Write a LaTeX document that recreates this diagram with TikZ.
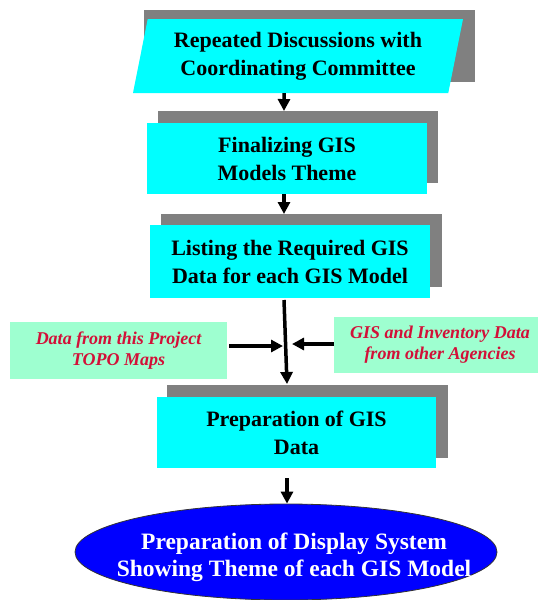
\documentclass[tikz,border=0pt]{standalone}
\usepackage{fontspec}
\setmainfont{Liberation Serif}
\usetikzlibrary{shapes.geometric,arrows.meta}

\definecolor{boxcyan}{RGB}{0,255,255}
\definecolor{shadowgray}{RGB}{128,128,128}
\definecolor{mint}{RGB}{158,255,208}
\definecolor{srcred}{RGB}{210,16,56}
\definecolor{dispblue}{RGB}{0,0,255}

\tikzset{
  shadowbox/.style={fill=shadowgray, inner sep=0pt, outer sep=0pt},
  stepbox/.style={fill=boxcyan, inner sep=0pt, outer sep=0pt, align=center,
    font=\bfseries\fontsize{22}{28}\selectfont},
  srcbox/.style={fill=mint, inner sep=0pt, outer sep=0pt, align=center,
    text=srcred, font=\bfseries\itshape\fontsize{18}{21}\selectfont},
  arr/.style={line width=3.5pt, -{Triangle[length=12pt,width=12pt]}},
}

\begin{document}
\begin{tikzpicture}[x=1pt,y=-1pt]
  \useasboundingbox (0,0) rectangle (538,600);

  % drop shadows behind the process boxes
  \node[shadowbox, minimum width=331, minimum height=72] (s1) at (309.5,46) {};
  \node[shadowbox, minimum width=280, minimum height=72] (s2) at (298,147) {};
  \node[shadowbox, minimum width=281, minimum height=73] (s3) at (301.5,250.5) {};
  \node[shadowbox, minimum width=281, minimum height=73] (s4) at (307.5,421.5) {};

  % process steps
  \node[stepbox, trapezium, trapezium left angle=73, trapezium right angle=107,
        trapezium stretches body, minimum width=330, minimum height=74]
        (box1) at (298,56) {Repeated Discussions with\\Coordinating Committee};
  \node[stepbox, minimum width=280, minimum height=71]
        (box2) at (287,158.5) {Finalizing GIS\\Models Theme};
  \node[stepbox, minimum width=280, minimum height=73]
        (box3) at (290,261.5) {Listing the Required GIS\\Data for each GIS Model};
  \node[stepbox, minimum width=279, minimum height=71]
        (box4) at (296.5,432.5) {Preparation of GIS\\Data};

  % data sources
  \node[srcbox, minimum width=217, minimum height=57]
        (lb) at (118.5,350.5) {Data from this Project\\TOPO Maps};
  \node[srcbox, minimum width=204, minimum height=56]
        (rb) at (436,345) {\hspace*{8pt}GIS and Inventory Data\\\hspace*{8pt}from other Agencies};

  % final output: ellipse with its caption set on top
  \node[ellipse, fill=dispblue, draw=black!80, line width=0.8pt, inner sep=0pt,
        minimum width=422, minimum height=96] (disp) at (286,552) {};
  \node[align=center, text=white, inner sep=0pt,
        font=\bfseries\fontsize{23.5}{27}\selectfont]
        (disptext) at ([xshift=8pt,yshift=-5pt]disp.center)
        {Preparation of Display System\\Showing Theme of each GIS Model};

  % merge points on the main flow line
  \coordinate (jl) at (283,346);
  \coordinate (jr) at (292,344);

  % connectors
  \draw[arr] ([xshift=-14pt]box1.south) -- ([xshift=-14pt]s2.north);
  \draw[arr] ([xshift=-3pt]box2.south) -- ([xshift=-17.5pt]s3.north);
  \draw[arr] ([xshift=-6pt,yshift=-2pt]box3.south) -- ([xshift=-20.5pt,yshift=1pt]s4.north);
  \draw[arr] ([xshift=2pt,yshift=4.5pt]lb.east) -- (jl);
  \draw[arr] ([yshift=1pt]rb.west) -- (jr);
  \draw[arr] ([xshift=-9.5pt,yshift=-10pt]box4.south) -- ([xshift=1pt]disp.north);
\end{tikzpicture}
\end{document}
